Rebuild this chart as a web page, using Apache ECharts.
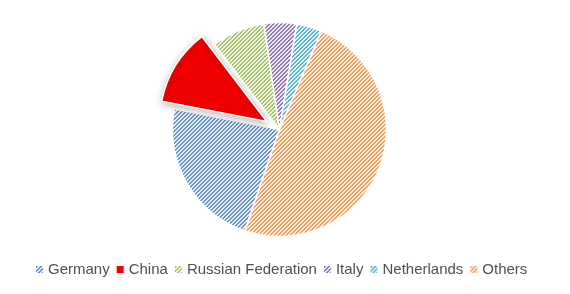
<!DOCTYPE html>
<html>
<head>
<meta charset="utf-8">
<script src="https://cdn.jsdelivr.net/npm/echarts@6/dist/echarts.min.js"></script>
<style>html,body{margin:0;padding:0;background:#fff;}#c{width:570px;height:294px;}</style>
</head>
<body>
<div id="c"></div>
<script>
const categories = ['Germany', 'China', 'Russian Federation', 'Italy', 'Netherlands', 'Others'];
const values = [22.7, 11.5, 8.0, 4.9, 3.8, 48.6];
const lineColors = ['#6691CA', '#E00000', '#A6C36A', '#8F77AF', '#5CB5CD', '#F8A05C'];
const baseColors = ['#EAF0F8', '#FF0000', '#F2F7EA', '#F0ECF5', '#E7F4F8', '#FEEDE0'];

function hatch(line, bg) {
  const c = document.createElement('canvas');
  c.width = 4; c.height = 4;
  const ctx = c.getContext('2d');
  ctx.fillStyle = bg;
  ctx.fillRect(0, 0, 4, 4);
  ctx.fillStyle = line;
  for (let x = 0; x < 4; x++) {
    for (let y = 0; y < 4; y++) {
      const k = (x + y) % 4;
      if (k === 0 || k === 1) ctx.fillRect(x, y, 1, 1);
    }
  }
  return { image: c, repeat: 'repeat' };
}

const chart = echarts.init(document.getElementById('c'), null, {renderer: 'canvas'});
const data = categories.map((name, i) => {
  const item = {
    name: name,
    value: values[i],
    itemStyle: { color: hatch(lineColors[i], baseColors[i]) }
  };
  if (name === 'China') {
    item.selected = true;
    item.itemStyle.shadowBlur = 9;
    item.itemStyle.shadowColor = 'rgba(0,0,0,0.28)';
    item.itemStyle.shadowOffsetX = 1;
    item.itemStyle.shadowOffsetY = 2;
  }
  return item;
});

chart.setOption({
  animation: false,
  legend: {
    data: categories,
    top: 257,
    left: 31,
    itemWidth: 7,
    itemHeight: 7,
    itemGap: 7,
    icon: 'rect',
    itemStyle: { borderWidth: 0, shadowBlur: 0, shadowColor: 'transparent' },
    textStyle: { fontFamily: 'Liberation Sans', fontSize: 15, color: '#505050' }
  },
  series: [{
    type: 'pie',
    center: [279.5, 129.5],
    radius: 107,
    startAngle: 90 - 198.9,
    clockwise: true,
    selectedMode: 'multiple',
    selectedOffset: 15,
    label: { show: false },
    labelLine: { show: false },
    emphasis: { disabled: true },
    itemStyle: { borderColor: '#ffffff', borderWidth: 1.5 },
    data: data
  }]
});
</script>
</body>
</html>
